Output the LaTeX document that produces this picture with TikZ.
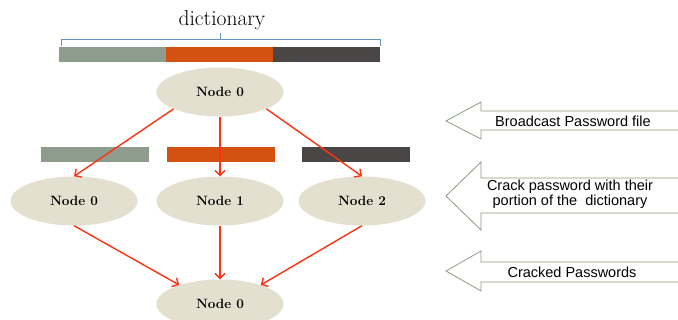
\documentclass[tikz,border=0pt]{standalone}
\usepackage{fontspec}
\newfontfamily\arialfont{Liberation Sans}
\usepackage{tikz}
\usetikzlibrary{
    arrows.meta,
    shapes.geometric,
    positioning
}
\definecolor{sagegray}{RGB}{141,156,141}
\definecolor{rustorange}{RGB}{211,82,18}
\definecolor{darkslate}{RGB}{75,70,70}
\definecolor{nodebeige}{RGB}{227,224,207}
\definecolor{linkred}{RGB}{255,51,17}
\definecolor{bracelblue}{RGB}{100,145,200}
\definecolor{stepgreen}{RGB}{138,154,128}

\begin{document}
\begin{tikzpicture}[x=1pt, y=-1pt,
    worker/.style={ellipse, fill=nodebeige, minimum width=127pt, minimum height=49pt,
        inner sep=0pt, font=\fontsize{13.5}{15}\selectfont\bfseries},
    link/.style={-{Straight Barb[length=5pt, width=10pt]}, draw=linkred, line width=1.4pt},
    stepnote/.style={font=\arialfont\fontsize{14.5}{13.5}\selectfont, align=center},
    stepline/.style={draw=stepgreen, line width=0.8pt}]
                                \useasboundingbox (0,0) rectangle (678,320);
                                % dictionary bar
                                \node[font=\fontsize{21.5}{24}\selectfont] (dict) at (222,20) {dictionary};
                                \draw[bracelblue, line width=1pt] (61,46) -- (61,40) -- (380,40) -- (380,46)
                                (220,40) -- (220,33);
                                \fill[sagegray] (59,47) rectangle (166,62);
                                \fill[rustorange] (166,47) rectangle (273,62);
                                \fill[darkslate] (273,47) rectangle (380,62);
                                % portions
                                \fill[sagegray] (41,147) rectangle (149,162);
                                \fill[rustorange] (167,147) rectangle (275,162);
                                \fill[darkslate] (302,147) rectangle (410,162);
                                % nodes
                                \node[worker] (top) at (220,92) {Node 0};
                                \node[worker] (a) at (74,201) {Node 0};
                                \node[worker] (b) at (220,201) {Node 1};
                                \node[worker] (c) at (362,201) {Node 2};
                                \node[worker] (bot) at (220,304) {Node 0};
                                \draw[link] (top.200) -- (a.north);
                                \draw[link] (top.south) -- (b.north);
                                \draw[link] (top.340) -- (c.north);
                                \draw[link] (a.south) -- (bot.155);
                                \draw[link] (b.south) -- (bot.north);
                                \draw[link] (c.south) -- (bot.25);
                                % steps
                                \draw[stepline] (679,111) -- (481,111) -- (481,102) -- (446,121)
                                -- (481,139) -- (481,130) -- (679,130);
                                \node[stepnote] (s1) at (573,121) {Broadcast Password file};
                                \draw[stepline] (679,178) -- (481,178) -- (481,162) -- (446,196)
                                -- (481,230) -- (481,213) -- (679,213);
                                \node[stepnote] (s2) at (570,194) {Crack password with their\\portion of the\ \ dictionary};
                                \draw[stepline] (679,262) -- (481,262) -- (481,251) -- (446,271)
                                -- (481,291) -- (481,282) -- (679,282);
                                \node[stepnote] (s3) at (572,272) {Cracked Passwords};
                            \end{tikzpicture}
\end{document}
